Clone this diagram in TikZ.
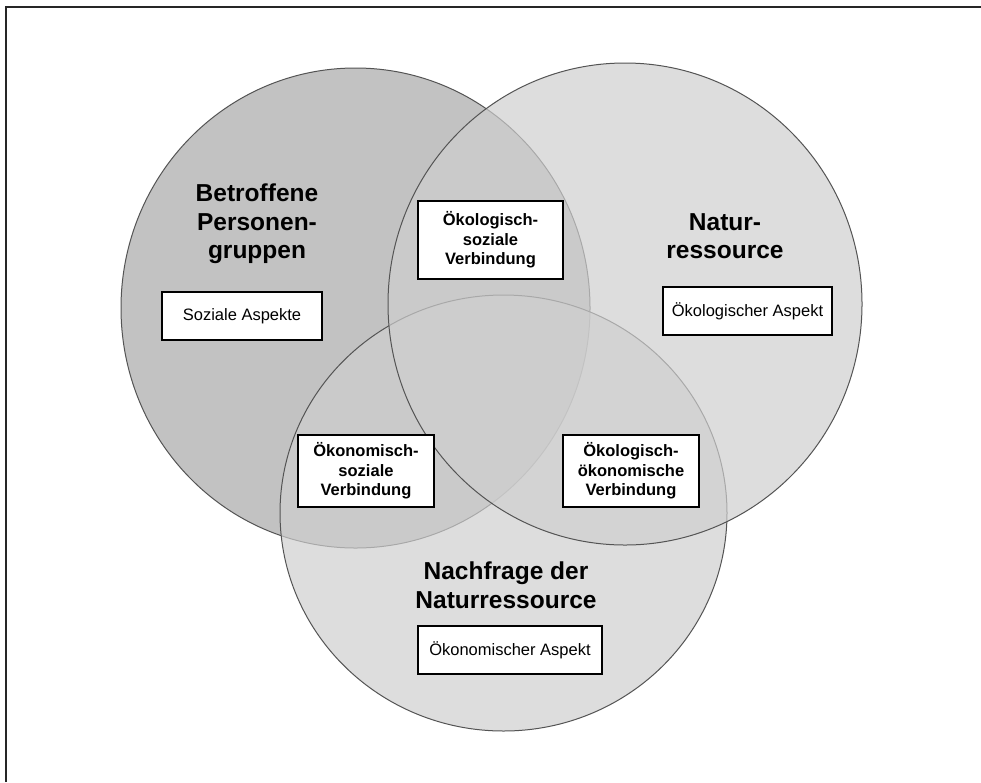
\documentclass[tikz,border=0pt]{standalone}
\usepackage{fontspec}
\setmainfont{Liberation Sans}
\usetikzlibrary{shapes.geometric}
\definecolor{leftfill}{gray}{0.761}
\definecolor{lightfill}{gray}{0.812}
\definecolor{rimgray}{gray}{0.33}
\begin{document}
\begin{tikzpicture}[x=1pt,y=-1pt,
  rim/.style={ellipse, draw=rimgray, line width=1pt, inner sep=0pt},
  leftset/.style={rim, fill=leftfill},
  lightset/.style={rim, fill=lightfill, fill opacity=0.69, draw opacity=1},
  title/.style={font=\fontsize{24.5}{28.5}\selectfont\bfseries, align=center, inner sep=0pt},
  aspectbox/.style={draw=black, line width=1.8pt, fill=white, inner sep=0pt,
    minimum height=48pt, font=\fontsize{16.5}{19.5}\selectfont},
  linkbox/.style={draw=black, line width=1.8pt, fill=white, inner sep=0pt,
    minimum height=72pt, minimum width=136pt, align=center,
    font=\fontsize{16.5}{19.5}\selectfont\bfseries}
]
\useasboundingbox (0,0) rectangle (981,782);
\fill[white] (0,0) rectangle (981,782);
% frame (only top and left edges are visible)
\draw[line width=2pt, black!85] (6,782) -- (6,7) -- (981,7);

% the three sets
\node[leftset, minimum width=469pt, minimum height=480pt] (setL) at (355.5,308) {};
\node[lightset, minimum width=447pt, minimum height=436pt] (setB) at (503.5,513) {};
\node[lightset, minimum width=474pt, minimum height=482pt] (setR) at (625,304) {};

% titles
\node[title] (titL) at (257,224) {Betroffene\\Personen-\\gruppen};
\node[title] (titR) at (725,236) {Natur-\\ressource};
\node[title] (titB) at (506,585) {Nachfrage der\\Naturressource};

% aspect boxes
\node[aspectbox, minimum width=160pt] (soz) at (242,316) {Soziale Aspekte};
\node[aspectbox, minimum width=169pt] (oek) at (747.5,311) {Ökologischer Aspekt};
\node[aspectbox, minimum width=184pt] (okn) at (510,650) {Ökonomischer Aspekt};

% link boxes
\node[linkbox, minimum width=145pt, minimum height=78pt] (lkTop) at (490.5,240) {Ökologisch-\\soziale\\Verbindung};
\node[linkbox] (lkLeft) at (366,471) {Ökonomisch-\\soziale\\Verbindung};
\node[linkbox] (lkRight) at (631,471) {Ökologisch-\\ökonomische\\Verbindung};
\end{tikzpicture}
\end{document}
